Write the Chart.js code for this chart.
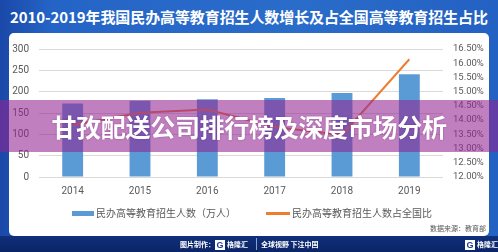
<!DOCTYPE html>
<html>
<head>
<meta charset="utf-8">
<script src="https://cdn.jsdelivr.net/npm/chart.js@4.4.0/dist/chart.umd.min.js"></script>
<style>
  html, body { margin:0; padding:0; }
  body { width:498px; height:252px; position:relative; overflow:hidden;
         background: linear-gradient(90deg, #1a48a8 0%, #2464c6 10%, #2a6cca 60%, #2361c2 100%);
         font-family: "Noto Sans CJK SC", "Noto Sans", sans-serif; }
  #title { position:absolute; left:0; top:7px; width:498px; text-align:center; color:#fff;
           font-size:15px; font-weight:bold; line-height:20px; letter-spacing:-0.1px; }
  #panel { position:absolute; left:9px; top:33px; width:480px; height:203px; background:#fff; border-radius:5px; }
  #footer { position:absolute; left:0; top:236px; width:498px; height:16px;
            background: linear-gradient(#10307a, #0b2466); }
  #chartwrap { position:absolute; left:0; top:0; width:498px; height:252px; }
  #src { position:absolute; right:12px; top:223px; font-size:7px; color:#555; line-height:10px; }
  .ft { position:absolute; top:236px; height:16px; line-height:16px; color:#fff; font-size:7px; font-weight:bold; }
  .logo { display:inline-block; width:10px; height:10px; background:#fff; color:#1a3f8f; font-size:9px; line-height:10px;
          text-align:center; font-family:"Liberation Sans", sans-serif; font-weight:bold; vertical-align:middle; margin-right:2px; }
  #band { position:absolute; left:0; top:100px; width:498px; height:52px; background:rgba(146,36,146,0.58); z-index:5;
          color:#fff; font-size:25px; font-weight:bold; text-align:center; line-height:52px; letter-spacing:-0.3px;
          text-shadow: 0 0 2px rgba(80,0,80,0.4); }
</style>
</head>
<body>
<div id="title">2010-2019年我国民办高等教育招生人数增长及占全国高等教育招生占比</div>
<div id="panel"></div>
<div id="footer"></div>
<div id="chartwrap"><canvas id="c" width="498" height="252"></canvas></div>
<div id="src">数据来源：教育部</div>
<div class="ft" style="left:180px;">图片制作：<span class="logo">G</span>格隆汇</div>
<div class="ft" style="left:256px; width:1px; top:238px; height:12px; background:#8aa0d0;"></div>
<div class="ft" style="left:261px;">全球视野 下注中国</div>
<div class="ft" style="left:465px;"><span class="logo">G</span>格隆汇</div>
<div id="band">甘孜配送公司排行榜及深度市场分析</div>
<script>
const categories = ['2014', '2015', '2016', '2017', '2018', '2019'];
const enrollment = [172, 178.5, 182, 185, 197, 241];
const sharePct = [13.83, 14.26, 14.37, 13.76, 13.48, 16.14];
const leftTicks = { min: 0, max: 300, step: 50 };
const rightTicks = { min: 12, max: 16.5, step: 0.5 };
const seriesNames = ['民办高等教育招生人数（万人）', '民办高等教育招生人数占全国比'];

const BLUE = '#5B9BD5', ORANGE = '#ED7D31', GRAY = '#595959';

const customLegend = {
  id: 'customLegend',
  afterDraw(chart) {
    const ctx = chart.ctx;
    ctx.save();
    ctx.font = '10px "Noto Sans CJK SC"';
    ctx.textBaseline = 'middle';
    const items = chart.data.datasets.map(ds => ({ text: ds.label, color: ds.borderColor || ds.backgroundColor, type: ds.type }));
    const boxW = 22, gapText = 2, gapItem = 30;
    const widths = items.map(it => boxW + gapText + ctx.measureText(it.text).width);
    const total = widths.reduce((a, b) => a + b, 0) + gapItem * (items.length - 1);
    let x = (chart.chartArea.left + chart.chartArea.right) / 2 + 10 - total / 2;
    const y = 213.5;
    items.forEach((it, i) => {
      ctx.fillStyle = it.color;
      if (it.type === 'line') ctx.fillRect(x, y - 1.5, boxW + 2, 3);
      else ctx.fillRect(x, y - 2.5, boxW, 5);
      ctx.fillStyle = GRAY;
      ctx.fillText(it.text, x + boxW + gapText + (it.type === 'line' ? 2 : 0), y);
      x += widths[i] + gapItem;
    });
    ctx.restore();
  }
};

new Chart(document.getElementById('c'), {
  data: {
    labels: categories,
    datasets: [
      { type: 'bar', label: seriesNames[0], data: enrollment, backgroundColor: BLUE, borderColor: BLUE,
        yAxisID: 'y', order: 2, barPercentage: 0.31, categoryPercentage: 1.0 },
      { type: 'line', label: seriesNames[1], data: sharePct, borderColor: ORANGE, backgroundColor: ORANGE,
        borderWidth: 2, pointRadius: 0, tension: 0, yAxisID: 'y1', order: 1 }
    ]
  },
  options: {
    responsive: false,
    animation: false,
    layout: { padding: { top: 49, bottom: 50, left: 0, right: 0 } },
    plugins: { legend: { display: false }, tooltip: { enabled: false } },
    scales: {
      x: {
        grid: { display: false, drawTicks: false },
        border: { display: false },
        ticks: { color: GRAY, font: { family: 'Roboto', size: 10 }, padding: 8 },
        afterFit(s) { s.height = 25; }
      },
      y: {
        position: 'left',
        min: leftTicks.min, max: leftTicks.max,
        ticks: { stepSize: leftTicks.step, autoSkip: false, color: GRAY, font: { family: 'Roboto', size: 10 }, padding: 10 },
        grid: { color: '#d9d9d9', lineWidth: 1, drawTicks: false },
        border: { display: false },
        afterFit(s) { s.width = 39; }
      },
      y1: {
        position: 'right',
        min: rightTicks.min, max: rightTicks.max,
        ticks: { stepSize: rightTicks.step, autoSkip: false, color: GRAY, font: { family: 'Roboto', size: 9.5 }, padding: 10,
                 callback: v => v.toFixed(2) + '%' },
        grid: { display: false, drawTicks: false },
        border: { display: false },
        afterFit(s) { s.width = 55; }
      }
    }
  },
  plugins: [customLegend]
});
</script>
</body>
</html>
